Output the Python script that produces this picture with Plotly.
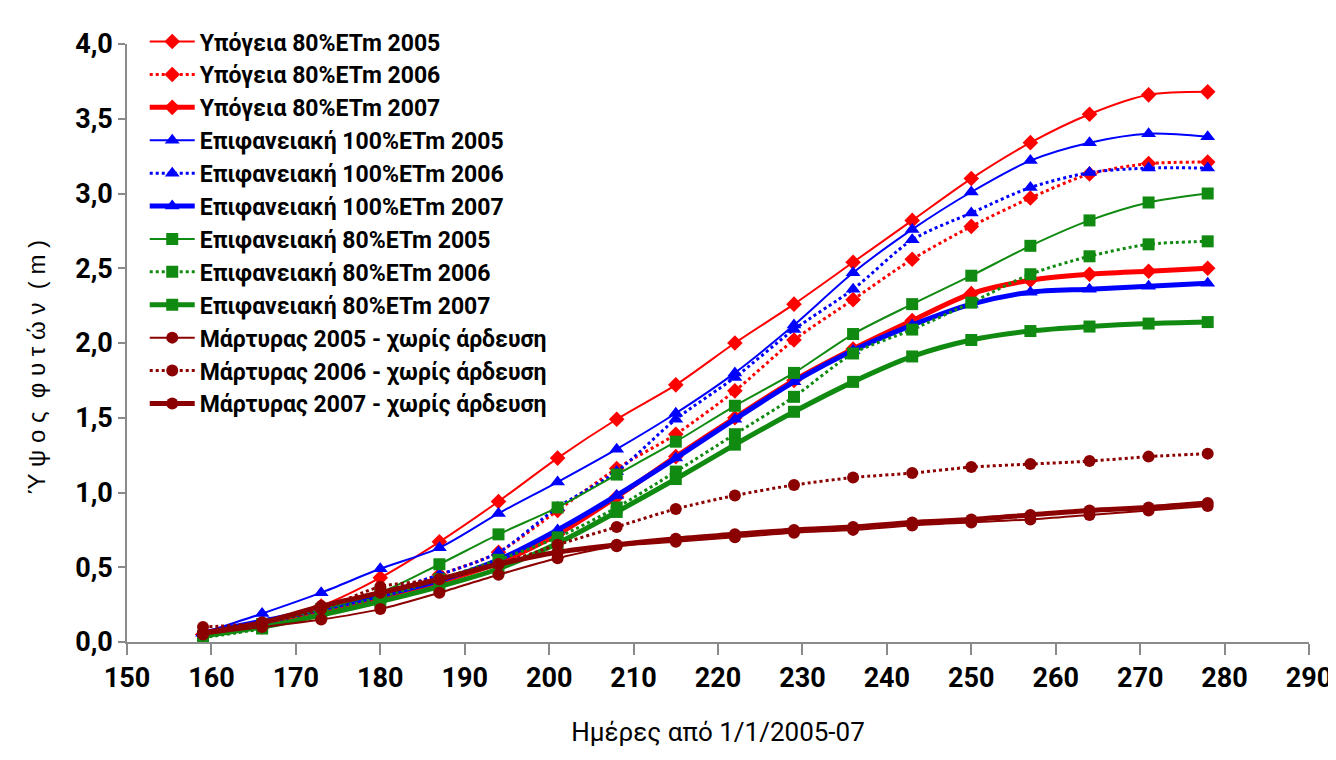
import plotly.graph_objects as go

days = [159, 166, 173, 180, 187, 194, 201, 208, 215, 222, 229, 236, 243, 250, 257, 264, 271, 278]

ypo_2005 = [0.05, 0.12, 0.24, 0.43, 0.67, 0.94, 1.23, 1.49, 1.72, 2.00, 2.26, 2.54, 2.82, 3.10, 3.34, 3.53, 3.66, 3.68]
ypo_2006 = [0.05, 0.10, 0.20, 0.32, 0.45, 0.60, 0.88, 1.16, 1.39, 1.68, 2.02, 2.29, 2.56, 2.78, 2.97, 3.13, 3.20, 3.21]
ypo_2007 = [0.05, 0.12, 0.20, 0.30, 0.40, 0.53, 0.72, 0.97, 1.24, 1.50, 1.75, 1.96, 2.15, 2.33, 2.42, 2.46, 2.48, 2.50]

epi100_2005 = [0.06, 0.19, 0.33, 0.49, 0.63, 0.86, 1.07, 1.29, 1.53, 1.80, 2.12, 2.47, 2.76, 3.01, 3.22, 3.34, 3.40, 3.38]
epi100_2006 = [0.06, 0.12, 0.22, 0.33, 0.45, 0.60, 0.90, 1.14, 1.49, 1.77, 2.09, 2.36, 2.69, 2.87, 3.04, 3.14, 3.17, 3.17]
epi100_2007 = [0.06, 0.14, 0.22, 0.31, 0.41, 0.55, 0.75, 0.98, 1.23, 1.49, 1.74, 1.95, 2.12, 2.26, 2.34, 2.36, 2.38, 2.40]

epi80_2005 = [0.03, 0.12, 0.22, 0.33, 0.52, 0.72, 0.90, 1.12, 1.34, 1.58, 1.80, 2.06, 2.26, 2.45, 2.65, 2.82, 2.94, 3.00]
epi80_2006 = [0.03, 0.09, 0.20, 0.30, 0.42, 0.55, 0.70, 0.90, 1.14, 1.39, 1.64, 1.93, 2.09, 2.27, 2.46, 2.58, 2.66, 2.68]
epi80_2007 = [0.04, 0.10, 0.18, 0.27, 0.37, 0.49, 0.66, 0.87, 1.09, 1.32, 1.54, 1.74, 1.91, 2.02, 2.08, 2.11, 2.13, 2.14]

mart_2005 = [0.05, 0.10, 0.15, 0.22, 0.33, 0.45, 0.56, 0.64, 0.67, 0.70, 0.73, 0.75, 0.78, 0.80, 0.82, 0.85, 0.88, 0.91]
mart_2006 = [0.10, 0.13, 0.22, 0.37, 0.42, 0.52, 0.65, 0.77, 0.89, 0.98, 1.05, 1.10, 1.13, 1.17, 1.19, 1.21, 1.24, 1.26]
mart_2007 = [0.06, 0.13, 0.24, 0.33, 0.42, 0.52, 0.60, 0.65, 0.69, 0.72, 0.75, 0.77, 0.80, 0.82, 0.85, 0.88, 0.90, 0.93]

names = [
    "Υπόγεια 80%ETm 2005", "Υπόγεια 80%ETm 2006", "Υπόγεια 80%ETm 2007",
    "Επιφανειακή 100%ETm 2005", "Επιφανειακή 100%ETm 2006", "Επιφανειακή 100%ETm 2007",
    "Επιφανειακή 80%ETm 2005", "Επιφανειακή 80%ETm 2006", "Επιφανειακή 80%ETm 2007",
    "Μάρτυρας 2005 - χωρίς άρδευση", "Μάρτυρας 2006 - χωρίς άρδευση", "Μάρτυρας 2007 - χωρίς άρδευση",
]
series = [ypo_2005, ypo_2006, ypo_2007, epi100_2005, epi100_2006, epi100_2007,
          epi80_2005, epi80_2006, epi80_2007, mart_2005, mart_2006, mart_2007]

colors = ["#ff0000", "#0000ff", "#108a10", "#8b0000"]
symbols = ["diamond", "triangle-up", "square", "circle"]
msizes = [12, 13, 12, 12]
styles = [("solid", 2), ("dot", 3), ("solid", 5)]

FONT = "Roboto, Liberation Sans, sans-serif"

fig = go.Figure()
for i, (nm, ys) in enumerate(zip(names, series)):
    g, k = divmod(i, 3)
    dash, w = styles[k]
    fig.add_trace(go.Scatter(
        x=days, y=ys, name=nm, mode="lines+markers",
        line=dict(color=colors[g], width=w, dash=dash, shape="spline", smoothing=0.8),
        marker=dict(symbol=symbols[g], size=msizes[g], color=colors[g]),
    ))

fig.update_layout(
    width=1336, height=760,
    margin=dict(l=119, r=23, t=34, b=126),
    paper_bgcolor="white", plot_bgcolor="white",
    separators=",.",
    font=dict(family=FONT, color="black"),
    showlegend=True,
    legend=dict(
        x=0.015, y=1.04, xanchor="left", yanchor="top",
        bgcolor="rgba(0,0,0,0)",
        font=dict(family=FONT, size=23, color="black", weight="bold"),
        tracegroupgap=0, itemwidth=45, maxheight=720,
    ),
    xaxis=dict(
        range=[150, 290], dtick=10, tick0=150,
        showgrid=False, zeroline=False,
        showline=True, linecolor="#8a8a8a", linewidth=1.5,
        ticks="outside", ticklen=11, tickcolor="#8a8a8a", tickwidth=1.5,
        tickfont=dict(family=FONT, size=27, color="black", weight="bold"),
        ticklabelstandoff=0, ticklabeloverflow="allow",
        title=dict(text="Ημέρες από 1/1/2005-07", font=dict(family=FONT, size=26, color="black"), standoff=30),
    ),
    yaxis=dict(
        range=[0, 4], dtick=0.5, tick0=0, tickformat=".1f",
        showgrid=False, zeroline=False,
        showline=True, linecolor="#8a8a8a", linewidth=1.5,
        ticks="outside", ticklen=7, tickcolor="#8a8a8a", tickwidth=1.5,
        tickfont=dict(family=FONT, size=27, color="black", weight="bold"),
    ),
    annotations=[dict(
        text="Ύ ψ ο ς  φ υ τ ώ ν  ( m )", textangle=-90,
        xref="paper", yref="paper", x=-0.076, y=0.46, xanchor="center", yanchor="middle",
        showarrow=False, font=dict(family="Liberation Sans, sans-serif", size=24, color="black"),
    )],
)

fig.write_html("out.html")
